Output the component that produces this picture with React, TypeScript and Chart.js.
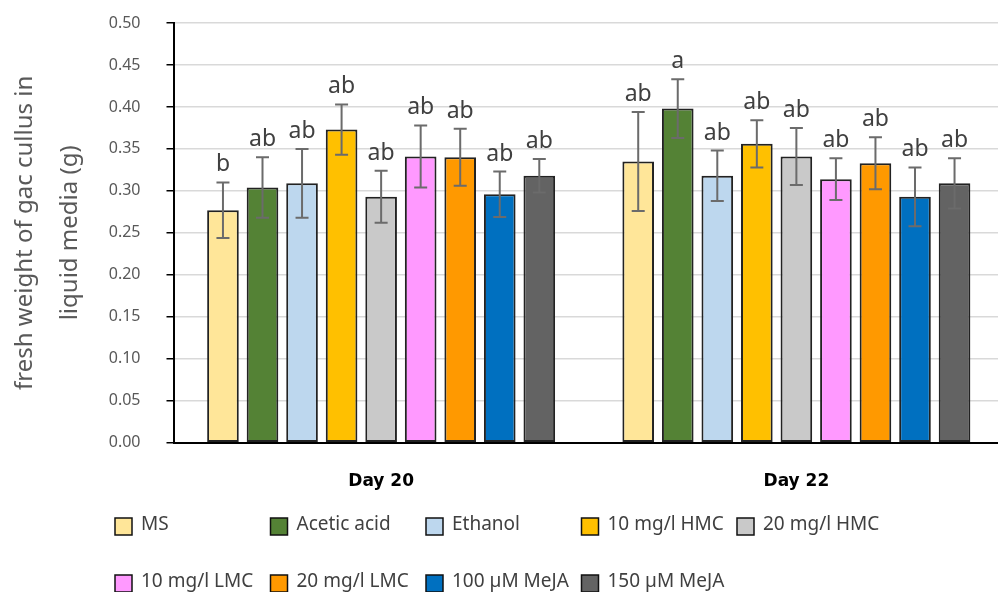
import React, { useEffect, useRef } from 'react';
import { Chart, registerables } from 'chart.js';

Chart.register(...registerables);

// ---- data ----
const categories = ['Day 20', 'Day 22'];
const yTickStep = 0.05;
const yMin = 0;
const yMax = 0.5;

const seriesNames = [
  'MS',
  'Acetic acid',
  'Ethanol',
  '10 mg/l HMC',
  '20 mg/l HMC',
  '10 mg/l LMC',
  '20 mg/l LMC',
  '100 µM MeJA',
  '150 µM MeJA',
];

const msValues = [0.277, 0.335];
const aceticValues = [0.304, 0.398];
const ethanolValues = [0.309, 0.318];
const hmc10Values = [0.373, 0.356];
const hmc20Values = [0.293, 0.341];
const lmc10Values = [0.341, 0.314];
const lmc20Values = [0.340, 0.333];
const meja100Values = [0.296, 0.293];
const meja150Values = [0.318, 0.309];

const msErrors = [0.033, 0.059];
const aceticErrors = [0.036, 0.035];
const ethanolErrors = [0.041, 0.030];
const hmc10Errors = [0.030, 0.028];
const hmc20Errors = [0.031, 0.034];
const lmc10Errors = [0.037, 0.025];
const lmc20Errors = [0.034, 0.031];
const meja100Errors = [0.027, 0.035];
const meja150Errors = [0.020, 0.030];

const msLetters = ['b', 'ab'];
const aceticLetters = ['ab', 'a'];
const ethanolLetters = ['ab', 'ab'];
const hmc10Letters = ['ab', 'ab'];
const hmc20Letters = ['ab', 'ab'];
const lmc10Letters = ['ab', 'ab'];
const lmc20Letters = ['ab', 'ab'];
const meja100Letters = ['ab', 'ab'];
const meja150Letters = ['ab', 'ab'];

const seriesValues = [msValues, aceticValues, ethanolValues, hmc10Values, hmc20Values, lmc10Values, lmc20Values, meja100Values, meja150Values];
const seriesErrors = [msErrors, aceticErrors, ethanolErrors, hmc10Errors, hmc20Errors, lmc10Errors, lmc20Errors, meja100Errors, meja150Errors];
const seriesLetters = [msLetters, aceticLetters, ethanolLetters, hmc10Letters, hmc20Letters, lmc10Letters, lmc20Letters, meja100Letters, meja150Letters];

const seriesColors = ['#FFE699', '#548235', '#BDD7EE', '#FFC000', '#C9C9C9', '#FF99FF', '#FF9900', '#0070C0', '#636363'];

const yTitle = ['fresh weight of gac cullus in', 'liquid media (g)'];

// ---- plugins ----
const errorBarPlugin = {
  id: 'errorBarsLetters',
  afterDatasetsDraw(chart: any) {
    const ctx = chart.ctx;
    const y = chart.scales.y;
    chart.data.datasets.forEach((ds: any, di: number) => {
      const meta = chart.getDatasetMeta(di);
      meta.data.forEach((bar: any, i: number) => {
        const v = ds.data[i];
        const e = ds.errors[i];
        const x = bar.x;
        const yt = y.getPixelForValue(v + e);
        const yb = y.getPixelForValue(v - e);
        ctx.save();
        ctx.strokeStyle = '#6b6b6b';
        ctx.lineWidth = 2;
        ctx.beginPath();
        ctx.moveTo(x, yt);
        ctx.lineTo(x, yb);
        ctx.moveTo(x - 6.5, yt);
        ctx.lineTo(x + 6.5, yt);
        ctx.moveTo(x - 6.5, yb);
        ctx.lineTo(x + 6.5, yb);
        ctx.stroke();
        ctx.fillStyle = '#404040';
        ctx.font = '23px "Noto Sans"';
        ctx.textAlign = 'center';
        ctx.textBaseline = 'alphabetic';
        ctx.fillText(ds.letters[i], x, yt - 11);
        ctx.restore();
      });
    });
  },
};

const gridLegendPlugin = {
  id: 'gridLegend',
  afterDraw(chart: any) {
    const ctx = chart.ctx;
    ctx.save();
    chart.data.datasets.forEach((ds: any, i: number) => {
      const row = i < 5 ? 0 : 1;
      const col = i < 5 ? i : i - 5;
      const bx = 115 + col * 155.5;
      const baseline = row === 0 ? 530 : 587;
      const by = baseline - 12;
      ctx.fillStyle = ds.backgroundColor;
      ctx.fillRect(bx, by, 17, 17);
      ctx.strokeStyle = '#111';
      ctx.lineWidth = 1.5;
      ctx.strokeRect(bx, by, 17, 17);
      ctx.fillStyle = '#404040';
      ctx.font = '19px "Noto Sans"';
      ctx.textAlign = 'left';
      ctx.textBaseline = 'alphabetic';
      ctx.fillText(ds.label, bx + 26, baseline);
    });
    ctx.restore();
  },
};

export default function App() {
  const ref = useRef<HTMLCanvasElement>(null);

  useEffect(() => {
    if (!ref.current) return;
    const datasets = seriesNames.map((name, i) => ({
      label: name,
      data: seriesValues[i],
      errors: seriesErrors[i],
      letters: seriesLetters[i],
      backgroundColor: seriesColors[i],
      borderColor: '#222',
      borderWidth: 2,
      borderSkipped: false,
      barPercentage: 0.8,
      categoryPercentage: 0.857,
    }));
    const chart = new Chart(ref.current, {
      type: 'bar',
      data: { labels: categories, datasets: datasets as any },
      plugins: [errorBarPlugin, gridLegendPlugin],
      options: {
        animation: false,
        responsive: false,
        devicePixelRatio: 1,
        layout: { padding: { left: 0, right: 6, top: 23, bottom: 89.3 } },
        plugins: {
          legend: { display: false },
          tooltip: { enabled: false },
        },
        scales: {
          x: {
            grid: { display: false },
            border: { display: true, color: '#000', width: 2 },
            ticks: {
              color: '#000',
              font: { family: 'DejaVu Sans', size: 17, weight: 'bold' },
              padding: 21,
            },
            afterFit(scale: any) {
              scale.height = 60;
            },
          },
          y: {
            min: yMin,
            max: yMax,
            grid: {
              color: (c: any) => (c.tick && c.tick.value === 0 ? '#000' : '#d9d9d9'),
              lineWidth: 1.5,
              tickLength: 7,
              tickColor: '#000',
              drawTicks: true,
            },
            border: { display: true, color: '#000', width: 2 },
            ticks: {
              stepSize: yTickStep,
              color: '#595959',
              font: { family: 'Noto Sans', size: 16 },
              padding: 26,
              callback: (v: any) => Number(v).toFixed(2),
            },
            title: {
              display: true,
              text: yTitle,
              color: '#595959',
              font: { family: 'Noto Sans', size: 24, lineHeight: 1.9 },
              padding: { top: 2, bottom: 0 },
            },
            afterFit(scale: any) {
              scale.width = 173.5;
              scale.paddingTop = 10;
              scale.paddingBottom = 10;
            },
          },
        },
      } as any,
    });
    return () => chart.destroy();
  }, []);

  return (
    <div
      style={{
        position: 'absolute',
        left: 0,
        top: 0,
        width: 998,
        height: 592,
        overflow: 'hidden',
        background: '#fff',
      }}
    >
      <canvas ref={ref} width={1010} height={592} style={{ display: 'block' }} />
    </div>
  );
}
